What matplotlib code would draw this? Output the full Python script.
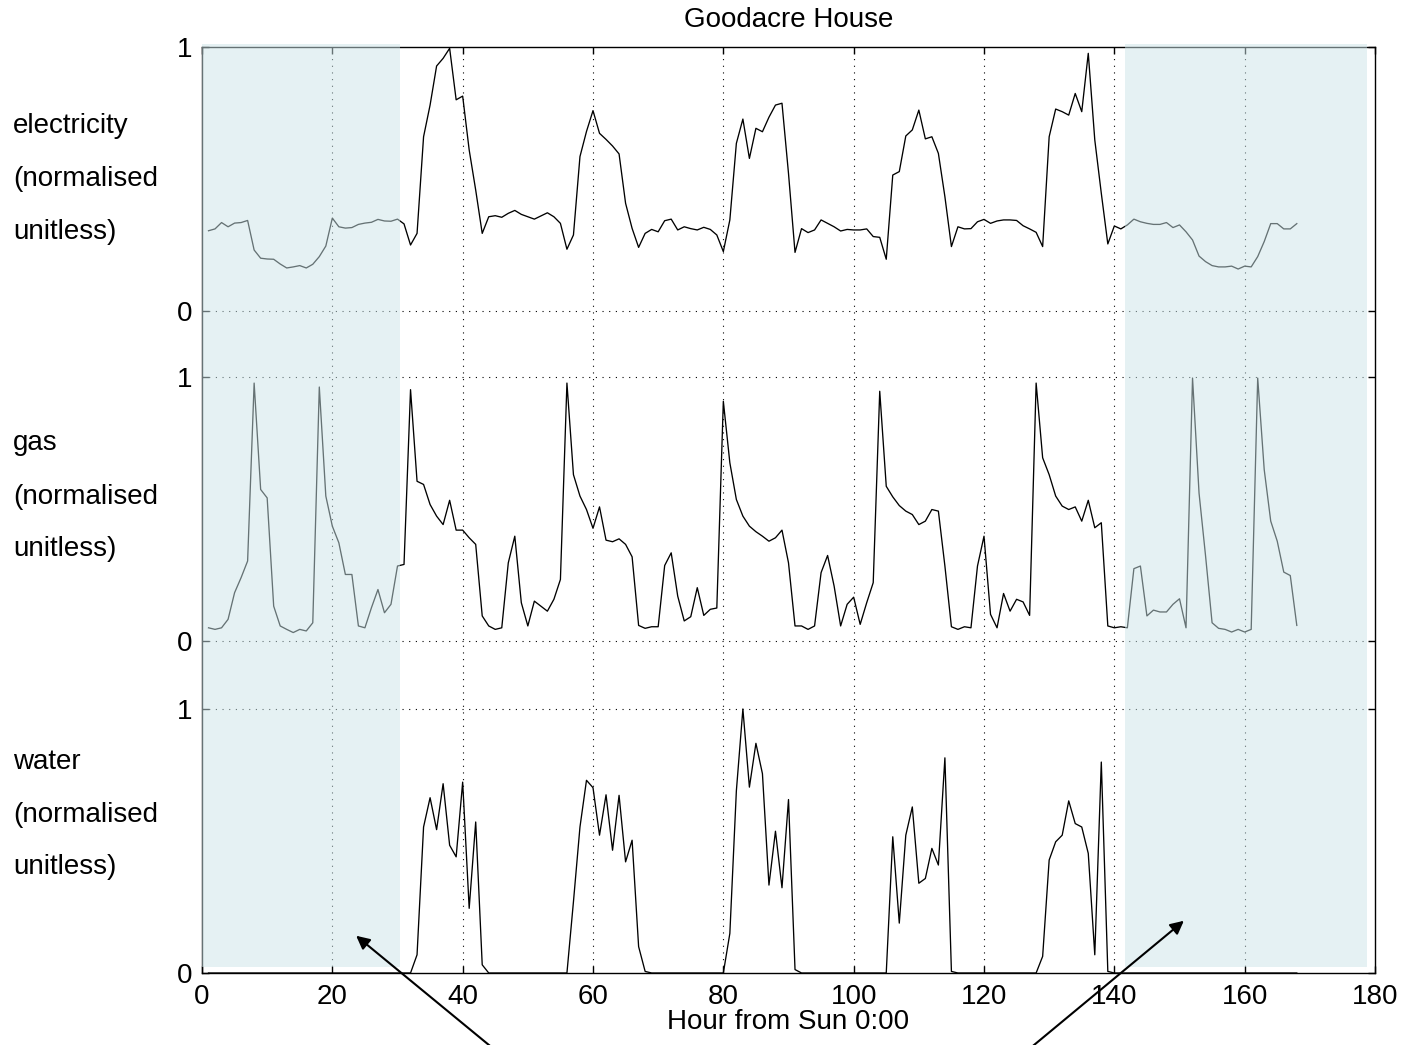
import numpy as np
import matplotlib
matplotlib.use("Agg")
import matplotlib.pyplot as plt

plt.rcParams['font.family'] = ['Liberation Sans', 'DejaVu Sans']

# ---------------- data ----------------
hours = list(range(1, 169))

electricity = [
    0.304, 0.311, 0.335, 0.319, 0.333, 0.335, 0.343, 0.231, 0.200, 0.197,
    0.196, 0.178, 0.163, 0.167, 0.172, 0.163, 0.177, 0.206, 0.246, 0.352,
    0.319, 0.314, 0.316, 0.328, 0.333, 0.336, 0.347, 0.341, 0.340, 0.348,
    0.330, 0.250, 0.294, 0.660, 0.780, 0.928, 0.957, 0.995, 0.800, 0.814,
    0.610, 0.458, 0.294, 0.357, 0.361, 0.355, 0.370, 0.381, 0.366, 0.357,
    0.348, 0.360, 0.372, 0.357, 0.332, 0.234, 0.288, 0.585, 0.680, 0.759,
    0.673, 0.650, 0.625, 0.595, 0.408, 0.313, 0.241, 0.294, 0.309, 0.300,
    0.342, 0.348, 0.307, 0.319, 0.312, 0.307, 0.317, 0.309, 0.288, 0.225,
    0.345, 0.635, 0.727, 0.578, 0.692, 0.679, 0.734, 0.780, 0.787, 0.521,
    0.222, 0.312, 0.297, 0.307, 0.345, 0.332, 0.319, 0.303, 0.309, 0.307,
    0.307, 0.311, 0.282, 0.279, 0.196, 0.515, 0.528, 0.663, 0.686, 0.761,
    0.652, 0.660, 0.597, 0.433, 0.244, 0.319, 0.311, 0.312, 0.338, 0.347,
    0.332, 0.341, 0.345, 0.345, 0.343, 0.323, 0.311, 0.298, 0.244, 0.660,
    0.765, 0.755, 0.742, 0.824, 0.755, 0.976, 0.648, 0.446, 0.254, 0.322,
    0.311, 0.326, 0.348, 0.338, 0.332, 0.328, 0.328, 0.335, 0.316, 0.326,
    0.300, 0.269, 0.208, 0.187, 0.172, 0.167, 0.167, 0.170, 0.159, 0.170,
    0.167, 0.206, 0.263, 0.331, 0.331, 0.311, 0.311, 0.331,
]

gas = [
    0.050, 0.044, 0.050, 0.082, 0.183, 0.240, 0.303, 0.977, 0.574, 0.542,
    0.132, 0.057, 0.044, 0.032, 0.044, 0.038, 0.069, 0.962, 0.549, 0.435,
    0.372, 0.252, 0.252, 0.057, 0.050, 0.126, 0.195, 0.107, 0.139, 0.284,
    0.290, 0.952, 0.605, 0.593, 0.517, 0.473, 0.441, 0.533, 0.420, 0.420,
    0.391, 0.366, 0.095, 0.057, 0.044, 0.050, 0.296, 0.397, 0.145, 0.057,
    0.151, 0.132, 0.113, 0.158, 0.233, 0.977, 0.630, 0.549, 0.498, 0.427,
    0.508, 0.382, 0.376, 0.387, 0.366, 0.319, 0.059, 0.048, 0.054, 0.054,
    0.286, 0.334, 0.170, 0.076, 0.092, 0.202, 0.097, 0.120, 0.125, 0.908,
    0.675, 0.536, 0.473, 0.435, 0.414, 0.397, 0.378, 0.391, 0.420, 0.296,
    0.057, 0.057, 0.044, 0.057, 0.259, 0.324, 0.208, 0.057, 0.139, 0.166,
    0.063, 0.145, 0.221, 0.946, 0.586, 0.546, 0.513, 0.492, 0.479, 0.441,
    0.454, 0.498, 0.492, 0.284, 0.054, 0.044, 0.054, 0.050, 0.284, 0.397,
    0.101, 0.050, 0.180, 0.113, 0.158, 0.148, 0.097, 0.977, 0.694, 0.630,
    0.549, 0.511, 0.498, 0.508, 0.454, 0.533, 0.429, 0.448, 0.057, 0.050,
    0.054, 0.050, 0.274, 0.284, 0.095, 0.117, 0.110, 0.110, 0.139, 0.160,
    0.050, 0.996, 0.560, 0.322, 0.069, 0.048, 0.044, 0.034, 0.044, 0.034,
    0.044, 0.996, 0.649, 0.454, 0.378, 0.261, 0.248, 0.059,
]

water = (
    [0.0] * 32 +
    [0.069, 0.553, 0.664, 0.543, 0.717, 0.484, 0.440, 0.723, 0.245, 0.572, 0.031] +
    [0.0] * 13 +
    [0.270, 0.553, 0.730, 0.702, 0.522, 0.675, 0.465, 0.673, 0.421, 0.503, 0.100, 0.006] +
    [0.0] * 12 +
    [0.150, 0.690, 1.000, 0.704, 0.870, 0.755, 0.333, 0.537, 0.323, 0.657, 0.013] +
    [0.0] * 14 +
    [0.516, 0.189, 0.522, 0.629, 0.340, 0.358, 0.472, 0.409, 0.815, 0.006] +
    [0.0] * 13 +
    [0.063, 0.428, 0.497, 0.522, 0.652, 0.566, 0.553, 0.453, 0.069, 0.799, 0.006] +
    [0.0] * 29
)

series_names = ["electricity", "gas", "water"]
unit_lines = ["(normalised", "unitless)"]
x_ticks = [0, 20, 40, 60, 80, 100, 120, 140, 160, 180]
weekend_spans = [(0, 30.4), (141.6, 178.7)]

# ---------------- layout ----------------
W, H = 1402, 1045
fig = plt.figure(figsize=(W / 100, H / 100), dpi=100)
ax_l, ax_r, ax_t, ax_b = 202, 1375, 47, 973
ax = fig.add_axes([ax_l / W, 1 - ax_b / H, (ax_r - ax_l) / W, (ax_b - ax_t) / H])

unit = 264.0
off_water = 0.0
off_gas = (973 - 641) / unit
off_elec = (973 - 311) / unit
ytop = (973 - 47) / unit

hrs = np.array(hours)
lw = 0.95
ax.plot(hrs, np.array(electricity) + off_elec, color='k', lw=lw, zorder=3)
ax.plot(hrs, np.array(gas) + off_gas, color='k', lw=lw, zorder=3)
ax.plot(hrs, np.array(water) + off_water, color='k', lw=lw, zorder=3)

ax.set_xlim(0, 180)
ax.set_ylim(0, ytop)

fs = 20
yt = [off_water, off_water + 1, off_gas, off_gas + 1, off_elec, off_elec + 1]
ax.set_yticks(yt)
ax.set_yticklabels(["0", "1", "0", "1", "0", "1"])
ax.set_xticks(x_ticks)
ax.set_xticklabels([str(t) for t in x_ticks])
ax.tick_params(direction='in', length=5, width=1, top=True, right=True,
               labelsize=fs, pad=7)
ax.tick_params(axis='x', pad=8)

# grid (dotted)
for xv in x_ticks[1:-1]:
    ax.axvline(xv, color='k', lw=0.8, linestyle=(0, (1, 5)), zorder=1)
for yv in [1.0, off_gas, off_gas + 1, off_elec]:
    ax.axhline(yv, color='k', lw=0.8, linestyle=(0, (1, 5)), zorder=1)

for sp in ax.spines.values():
    sp.set_linewidth(1.0)
    sp.set_color('k')

# weekend shading (drawn over, semi-transparent)
for x0, x1 in weekend_spans:
    ax.axvspan(x0, x1, ymin=6 / 926, ymax=1 + 3 / 926, facecolor=(0.8, 0.898, 0.914),
               alpha=0.5, edgecolor='none', zorder=5, clip_on=False)

# title and x label
fig.text(788.5 / W, 1 - 27 / H, "Goodacre House", ha='center', va='baseline', fontsize=fs)
fig.text(788.5 / W, 1 - 1029 / H, "Hour from Sun 0:00", ha='center', va='baseline', fontsize=fs)

# left labels
label_rows = {"electricity": [126, 179, 232], "gas": [443, 497, 549], "water": [762, 815, 867]}
for name in series_names:
    rows = label_rows[name]
    for txt, yp in zip([name] + unit_lines, rows):
        fig.text(13 / W, 1 - yp / H, txt, ha='left', va='center', fontsize=fs)

# arrows
arrows = [((495, 1050), (354, 934)), ((1028, 1050), (1186, 919))]
for (sx, sy), (ex, ey) in arrows:
    fig.add_artist(matplotlib.patches.FancyArrowPatch(
        (sx / W, 1 - sy / H), (ex / W, 1 - ey / H), transform=fig.transFigure,
        arrowstyle='-|>', mutation_scale=20, lw=1.5, color='k', zorder=10))

fig.savefig("out.png", dpi=100)
